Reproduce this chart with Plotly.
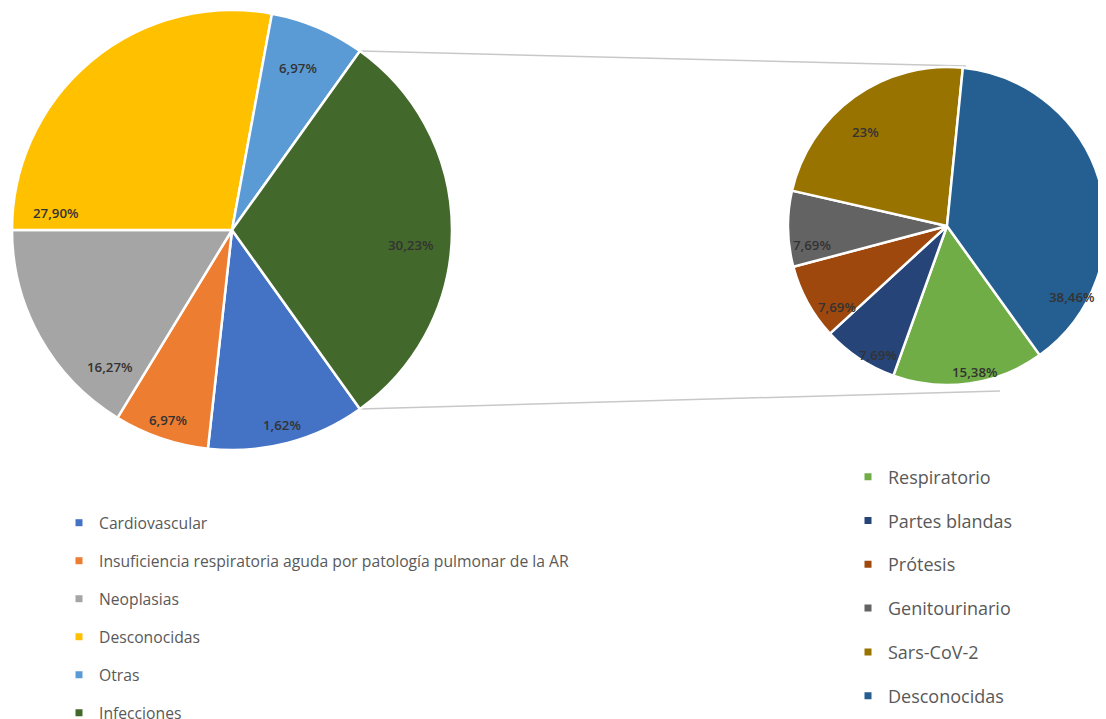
import math
import plotly.graph_objects as go

W, H = 1106, 719
OFF = 8  # page offset of the figure inside the browser window

# ---------------- data ----------------
left_labels = ["Cardiovascular",
               "Insuficiencia respiratoria aguda por patología pulmonar de la AR",
               "Neoplasias", "Desconocidas", "Otras", "Infecciones"]
left_values = [11.62, 6.97, 16.27, 27.90, 6.97, 30.23]
left_text = ["1,62%", "6,97%", "16,27%", "27,90%", "6,97%", "30,23%"]

right_labels = ["Respiratorio", "Partes blandas", "Prótesis",
                "Genitourinario", "Sars-CoV-2", "Desconocidas"]
right_values = [15.38, 7.69, 7.69, 7.69, 23.0, 38.46]
right_text = ["15,38%", "7,69%", "7,69%", "7,69%", "23%", "38,46%"]

# ---------------- styles ----------------
left_colors = ["#4472C4", "#ED7D31", "#A5A5A5", "#FFC000", "#5B9BD5", "#43682B"]
right_colors = ["#70AD47", "#264478", "#9E480E", "#636363", "#997300", "#255E91"]

FONT = "Open Sans"

# pie geometry (screen pixels)
L_CX, L_CY, L_R = 232, 230, 220
R_CX, R_CY, R_R = 947, 226, 159

# label positions (screen pixels: "best fit" placement)
left_label_pos = [(282, 425), (168, 420), (110, 367), (56, 213), (298, 68), (411, 245)]
right_label_pos = [(975, 372), (878, 355), (837, 307), (812, 245), (865, 132), (1072, 297)]


def px(x, y):
    return (x - OFF) / W, 1 - (y - OFF) / H


def domain(cx, cy, r):
    x0, y1 = px(cx - r, cy - r)
    x1, y0 = px(cx + r, cy + r)
    return dict(x=[x0, x1], y=[y0, y1])


fig = go.Figure()

rot_left = 90 + 180 * left_values[-1] / sum(left_values)
rot_right = 144.3

fig.add_trace(go.Pie(
    labels=left_labels, values=left_values, text=left_text,
    sort=False, direction="clockwise", rotation=rot_left,
    marker=dict(colors=left_colors, line=dict(color="white", width=2.5)),
    textinfo="none", hoverinfo="label+text", showlegend=False,
    domain=domain(L_CX, L_CY, L_R),
))
fig.add_trace(go.Pie(
    labels=right_labels, values=right_values, text=right_text,
    sort=False, direction="clockwise", rotation=rot_right,
    marker=dict(colors=right_colors, line=dict(color="white", width=2.5)),
    textinfo="none", hoverinfo="label+text", showlegend=False,
    domain=domain(R_CX, R_CY, R_R),
))

# legend entries
for lab, col in zip(left_labels, left_colors):
    fig.add_trace(go.Scatter(
        x=[None], y=[None], mode="markers", name=lab,
        marker=dict(symbol="square", size=7, color=col),
        legend="legend", legendgroup="L_" + lab, hoverinfo="skip"))
for lab, col in zip(right_labels, right_colors):
    fig.add_trace(go.Scatter(
        x=[None], y=[None], mode="markers", name=lab,
        marker=dict(symbol="square", size=7, color=col),
        legend="legend2", legendgroup="R_" + lab, hoverinfo="skip"))

label_font = dict(family=FONT, size=13.3, color="#333333", weight=600)
annotations = []
for t, (x, y) in zip(left_text + right_text, left_label_pos + right_label_pos):
    ax, ay = px(x, y)
    annotations.append(dict(x=ax, y=ay, xref="paper", yref="paper", text=t,
                            showarrow=False, xanchor="center", yanchor="middle",
                            font=label_font))

# connector lines between the pies
half = math.pi * left_values[-1] / sum(left_values)
lx_t, ly_t = L_CX + L_R * math.cos(half), L_CY - L_R * math.sin(half)
lx_b, ly_b = L_CX + L_R * math.cos(half), L_CY + L_R * math.sin(half)
rx_t, ry_t = 966, 66
rx_b, ry_b = 1000, 391
shapes = []
for (x0, y0, x1, y1) in [(lx_t, ly_t, rx_t, ry_t), (lx_b, ly_b, rx_b, ry_b)]:
    a0, b0 = px(x0, y0)
    a1, b1 = px(x1, y1)
    shapes.append(dict(type="line", xref="paper", yref="paper", x0=a0, y0=b0,
                       x1=a1, y1=b1, line=dict(color="#C8C8C8", width=1.5),
                       layer="below"))

lx, ly = px(59, 506)
rx, ry = px(848, 458.5)
fig.update_layout(
    width=W, height=H,
    margin=dict(l=0, r=0, t=0, b=0, autoexpand=False),
    paper_bgcolor="white", plot_bgcolor="white",
    xaxis=dict(visible=False), yaxis=dict(visible=False),
    font=dict(family=FONT),
    annotations=annotations, shapes=shapes,
    legend=dict(x=lx, y=ly, xanchor="left", yanchor="top",
                font=dict(family=FONT, size=15.7, color="#595959"),
                tracegroupgap=14.6, bgcolor="rgba(0,0,0,0)", itemclick=False,
                itemdoubleclick=False),
    legend2=dict(x=rx, y=ry, xanchor="left", yanchor="top",
                 font=dict(family=FONT, size=18, color="#595959"),
                 tracegroupgap=17.4, bgcolor="rgba(0,0,0,0)", itemclick=False,
                 itemdoubleclick=False),
)

fig.write_html("out.html")
